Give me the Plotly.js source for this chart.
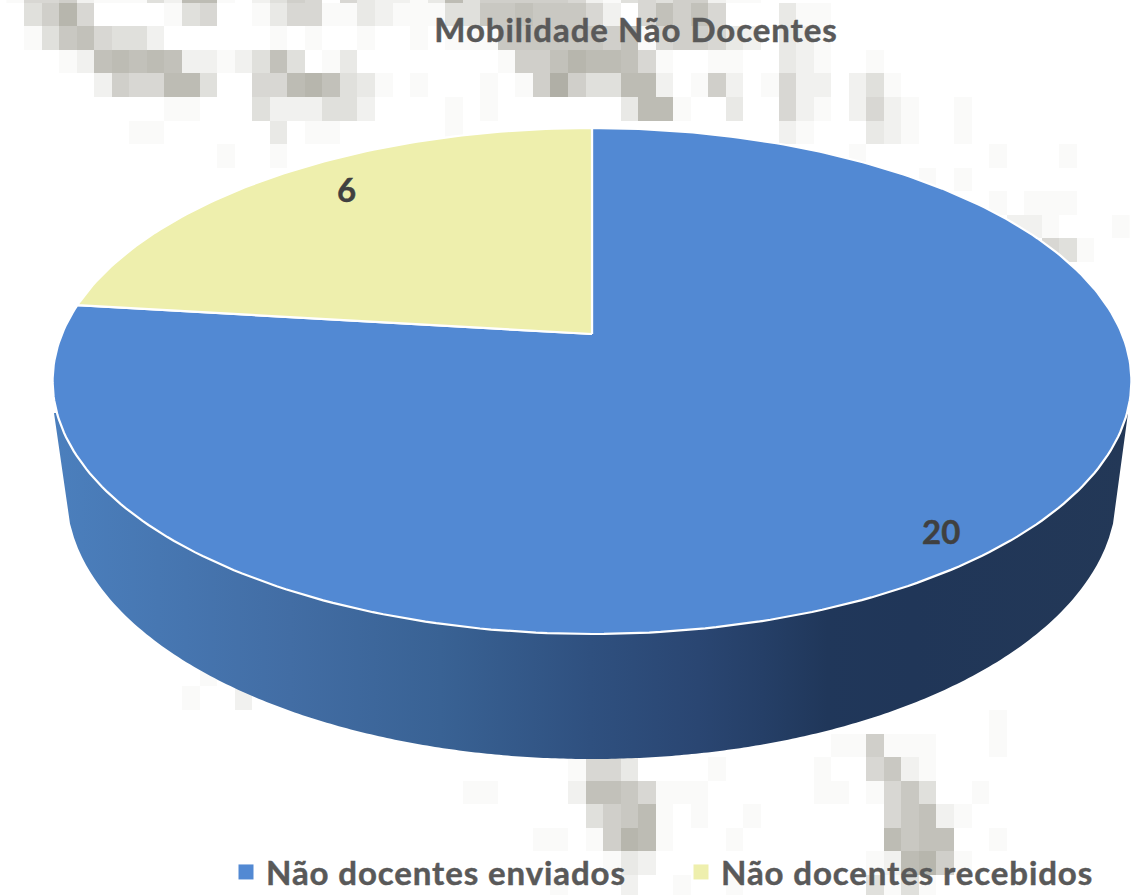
<!DOCTYPE html>
<html>
<head>
<meta charset="utf-8">
<script src="https://cdn.plot.ly/plotly-3.0.1.min.js"></script>
<style>
html,body{margin:0;padding:0;background:#fff}#chart{width:1132px;height:895px}
.gtitle{letter-spacing:0.95px;stroke:#595959;stroke-width:0.45px}
.legendtext{letter-spacing:0.9px;stroke:#595959;stroke-width:0.45px}
.annotation-text{stroke:#404040;stroke-width:0.45px}
</style>
</head>
<body>
<div id="chart"></div>
<script>
// ---- chart data ----
var categories = ["Não docentes enviados", "Não docentes recebidos"];
var values = [20, 6];
var sliceColors = ["#5289d3", "#eeefad"];
var chartTitle = "Mobilidade Não Docentes";

// ---- blurred backdrop (darkness digit per cell, base 36) ----
var mosaicFirstRow = -1;
var mosaicDense = [
  "1556211142"+"9910246505"+"3221394666"+"6652145466"+"211",
  "046a500001"+"4500135511"+"3211144778"+"7775205868"+"5000311",
  "0147854420"+"0000010100"+"1001011177"+"7777681566"+"5320321",
  "0001289898"+"2212484013"+"0000000016"+"68a9985100"+"1100321001",
  "0000026559"+"9400559a84"+"3101000101"+"6b64499201"+"6201522024"+"1",
  "0000000001"+"1000422244"+"2000010100"+"0000039910"+"0300521025"+"21001",
  "0000000110"+"0000030110"+"0000010000"+"0000000000"+"0000210003"+"21001"
];
var mosaicSparse = [
  [6,12,1],[6,15,1],[6,48,1],[6,56,1],[6,60,1],
  [7,52,1],[7,54,1],
  [8,56,1],[8,58,1],[8,59,1],[8,60,1],
  [9,57,2],[9,58,2],[9,59,1],[9,63,1],
  [10,59,5],[10,60,4],[10,61,1],
  [28,11,1],[29,10,1],[29,13,2],[30,56,1],[31,56,1],
  [31,47,1],[31,48,1],[31,49,6],[31,50,1],[31,51,1],[31,52,1],
  [32,32,1],[32,33,5],[32,34,5],[32,35,3],[32,40,1],[32,46,1],[32,49,5],[32,50,7],[32,51,2],[32,52,1],
  [33,26,1],[33,27,1],[33,32,2],[33,33,8],[33,34,8],[33,35,7],[33,36,5],[33,37,1],[33,38,1],[33,39,1],[33,46,1],[33,47,1],[33,49,1],[33,50,5],[33,51,7],[33,52,4],[33,55,1],
  [34,33,4],[34,34,6],[34,35,7],[34,36,9],[34,37,1],[34,39,1],[34,42,1],[34,50,5],[34,51,7],[34,52,8],[34,53,2],[34,54,1],
  [35,30,1],[35,31,1],[35,33,1],[35,34,6],[35,35,10],[35,36,9],[35,37,1],[35,41,1],[35,50,9],[35,51,7],[35,52,8],[35,53,8],[35,56,1],
  [36,34,1],[36,35,3],[36,36,2],[36,49,1],[36,50,2],[36,51,9],[36,52,10],[36,53,6],[36,54,1],
  [37,31,1],[37,35,2],[37,38,1],[37,41,1],[37,49,4],[37,50,1],[37,51,4],[37,52,1]
];

// ---- geometry of the tilted disc ----
var apexX = 592, apexY = 334, spanX = 530, spanY = -182.2, tilt = 0.1858;
function project(r, deg) {
  var a = deg * Math.PI / 180, u = r * Math.sin(a), v = r * Math.cos(a), w = 1 + tilt * v;
  return [apexX + spanX * u / w, (apexY + spanY * v) / w];
}
function sector(from, to) {
  var xs = [apexX], ys = [apexY], n = Math.ceil(Math.abs(to - from));
  for (var i = 0; i <= n; i++) {
    var p = project(1, from + (to - from) * i / n);
    xs.push(p[0]); ys.push(p[1]);
  }
  xs.push(apexX); ys.push(apexY);
  return {x: xs, y: ys};
}
var total = values.reduce(function (s, v) { return s + v; }, 0);
var sweep0 = values[0] / total * 360;
var blue = sector(0, sweep0), yellow = sector(sweep0, 360);

// wall of the cylinder
var wallCx = 591.5, wallA = 525, wallB = 266, wallCy = 493;
var wallX = [54], wallY = [413];
for (var i = 0; i <= 260; i++) {
  var wx = 70 + 1043 * i / 260, q = (wx - wallCx) / wallA;
  wallX.push(wx); wallY.push(wallCy + wallB * Math.sqrt(1 - q * q));
}
wallX.push(1128, 54); wallY.push(413, 413);

// mosaic grid
var cellW = 17.55, cellH = 23.57, gridX0 = 6.5, gridY0 = 2.7, nCols = 64, nRows = 40;
var z = [];
for (var r = 0; r < nRows; r++) { var row = []; for (var c = 0; c < nCols; c++) row.push(0); z.push(row); }
mosaicDense.forEach(function (s, i) {
  for (var c = 0; c < s.length; c++) z[i][c] = parseInt(s[c], 36);
});
mosaicSparse.forEach(function (t) { z[t[0] - mosaicFirstRow][t[1]] = t[2]; });

var traces = [
  {type: 'heatmap', z: z, x0: gridX0 + cellW / 2, dx: cellW,
   y0: gridY0 + cellH * mosaicFirstRow + cellH / 2, dy: cellH,
   zmin: 0, zmax: 12, showscale: false, hoverinfo: 'skip', zsmooth: false,
   colorscale: [[0, '#ffffff'], [0.0833, '#fafaf9'], [0.1667, '#f1f1ef'], [0.3333, '#e0e0dc'],
                [0.5, '#d0cfca'], [0.6667, '#c2c1ba'], [0.8333, '#b7b6ad'], [1, '#aaa99f']]},
  {type: 'scatter', x: wallX, y: wallY, mode: 'none', fill: 'toself', showlegend: false, hoverinfo: 'skip',
   fillgradient: {type: 'horizontal', start: 54, stop: 1128,
     colorscale: [[0, '#4b7fbd'], [0.22, '#426da4'], [0.36, '#396294'], [0.5, '#2f507f'],
                  [0.6, '#2a4672'], [0.66, '#253f67'], [0.72, '#20375a'], [0.8, '#203658'], [1, '#233857']]}},
  {type: 'scatter', x: blue.x, y: blue.y, mode: 'lines', fill: 'toself', fillcolor: sliceColors[0],
   line: {color: '#ffffff', width: 2.2}, showlegend: false, name: categories[0], text: String(values[0]), hoverinfo: 'name+text'},
  {type: 'scatter', x: yellow.x, y: yellow.y, mode: 'lines', fill: 'toself', fillcolor: sliceColors[1],
   line: {color: '#ffffff', width: 2.2}, showlegend: false, name: categories[1], text: String(values[1]), hoverinfo: 'name+text'},
  {type: 'scatter', x: [null], y: [null], mode: 'markers', name: categories[0],
   marker: {symbol: 'square', size: 15, color: sliceColors[0]}},
  {type: 'scatter', x: [null], y: [null], mode: 'markers', name: categories[1],
   marker: {symbol: 'square', size: 15, color: sliceColors[1]}}
];

var labelSpots = [[0.905, 140.7], [0.845, 321.9]];
var annotations = values.map(function (v, i) {
  var p = project(labelSpots[i][0], labelSpots[i][1]);
  return {x: p[0], y: p[1], xref: 'x', yref: 'y', text: '<b>' + v + '</b>', showarrow: false,
          font: {family: 'Lato', size: 33, color: '#404040'}, xanchor: 'center', yanchor: 'middle'};
});

var layout = {
  width: 1132, height: 895,
  margin: {l: 0, r: 0, t: 0, b: 0, pad: 0, autoexpand: false},
  paper_bgcolor: '#ffffff', plot_bgcolor: 'rgba(0,0,0,0)',
  title: {text: '<b>' + chartTitle + '</b>', x: 636 / 1132, xanchor: 'center', xref: 'paper',
          y: 1 - 30 / 895, yanchor: 'middle', yref: 'paper',
          font: {family: 'Lato', size: 33, color: '#595959'}},
  xaxis: {visible: false, range: [0, 1132], fixedrange: true},
  yaxis: {visible: false, range: [895, 0], fixedrange: true},
  showlegend: true,
  legend: {orientation: 'h', x: 226 / 1132, xanchor: 'left', y: 23 / 895, yanchor: 'middle',
           entrywidth: 410, entrywidthmode: 'pixels', bgcolor: 'rgba(0,0,0,0)', borderwidth: 0,
           traceorder: 'normal', itemsizing: 'trace', itemclick: false, itemdoubleclick: false,
           font: {family: 'Lato', size: 33, color: '#595959', weight: 700}},
  annotations: annotations
};
Plotly.newPlot('chart', traces, layout, {displayModeBar: false, responsive: false});
</script>
</body>
</html>
